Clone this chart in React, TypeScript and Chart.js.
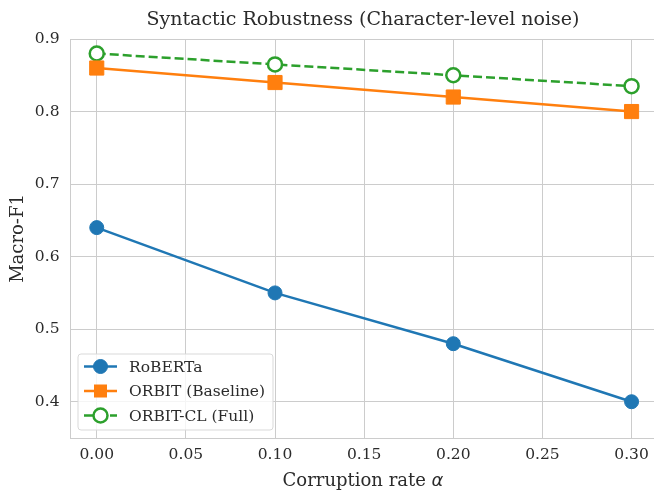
import React, { useEffect, useRef } from "react";
import { Chart, registerables } from "chart.js";

Chart.register(...registerables);

const corruptionRates = [0.0, 0.1, 0.2, 0.3];
const robertaF1 = [0.64, 0.55, 0.48, 0.4];
const orbitBaselineF1 = [0.86, 0.84, 0.82, 0.8];
const orbitClF1 = [0.88, 0.865, 0.85, 0.835];
const xTicks = [0.0, 0.05, 0.1, 0.15, 0.2, 0.25, 0.3];
const yTicks = [0.4, 0.5, 0.6, 0.7, 0.8, 0.9];
const xTitleText = "Corruption rate ";
const xTitleSymbol = "α";

const FONT = "'DejaVu Serif', serif";
const TEXT = "#2b2b2b";
const GRID = "#cccccc";

const pts = (ys: number[]) => corruptionRates.map((x, i) => ({ x, y: ys[i] }));

const xTitlePlugin = {
  id: "xTitleMixed",
  afterDraw(chart: any) {
    const ctx = chart.ctx;
    const area = chart.chartArea;
    ctx.save();
    const f1 = `18px ${FONT}`;
    const f2 = `italic 18px 'DejaVu Sans', sans-serif`;
    ctx.font = f1;
    const w1 = ctx.measureText(xTitleText).width;
    ctx.font = f2;
    const w2 = ctx.measureText(xTitleSymbol).width;
    const cx = (area.left + 656) / 2;
    const x = cx - (w1 + w2) / 2;
    const y = 481.5;
    ctx.fillStyle = TEXT;
    ctx.textBaseline = "middle";
    ctx.textAlign = "left";
    ctx.font = f1;
    ctx.fillText(xTitleText, x, y);
    ctx.font = f2;
    ctx.fillText(xTitleSymbol, x + w1, y);
    ctx.restore();
  },
};

const titlePlugin = {
  id: "centeredTitle",
  afterDraw(chart: any) {
    const ctx = chart.ctx;
    const area = chart.chartArea;
    ctx.save();
    ctx.font = `19px ${FONT}`;
    ctx.fillStyle = TEXT;
    ctx.textAlign = "center";
    ctx.textBaseline = "middle";
    ctx.fillText("Syntactic Robustness (Character-level noise)", (area.left + 656) / 2, 20);
    ctx.restore();
  },
};

const legendPlugin = {
  id: "insideLegend",
  afterDraw(chart: any) {
    const ctx = chart.ctx;
    const area = chart.chartArea;
    const x0 = area.left + 8;
    const boxH = 76;
    const y0 = area.bottom - 8 - boxH;
    const boxW = 195;
    ctx.save();
    ctx.fillStyle = "rgba(255,255,255,0.8)";
    ctx.strokeStyle = "#d9d9d9";
    ctx.lineWidth = 1;
    const r = 3;
    ctx.beginPath();
    ctx.moveTo(x0 + r, y0);
    ctx.lineTo(x0 + boxW - r, y0);
    ctx.quadraticCurveTo(x0 + boxW, y0, x0 + boxW, y0 + r);
    ctx.lineTo(x0 + boxW, y0 + boxH - r);
    ctx.quadraticCurveTo(x0 + boxW, y0 + boxH, x0 + boxW - r, y0 + boxH);
    ctx.lineTo(x0 + r, y0 + boxH);
    ctx.quadraticCurveTo(x0, y0 + boxH, x0, y0 + boxH - r);
    ctx.lineTo(x0, y0 + r);
    ctx.quadraticCurveTo(x0, y0, x0 + r, y0);
    ctx.closePath();
    ctx.fill();
    ctx.stroke();
    chart.data.datasets.forEach((ds: any, i: number) => {
      const cy = y0 + 12.5 + i * 24.5;
      const lx1 = x0 + 6;
      const lx2 = x0 + 39;
      const cx = (lx1 + lx2) / 2;
      ctx.strokeStyle = ds.borderColor;
      ctx.lineWidth = ds.borderWidth;
      ctx.setLineDash(ds.borderDash || []);
      ctx.beginPath();
      ctx.moveTo(lx1, cy);
      ctx.lineTo(lx2, cy);
      ctx.stroke();
      ctx.setLineDash([]);
      ctx.fillStyle = ds.pointBackgroundColor;
      ctx.strokeStyle = ds.pointBorderColor;
      ctx.lineWidth = ds.pointBorderWidth;
      if (ds.pointStyle === "rect") {
        const s = 6.5;
        ctx.fillRect(cx - s, cy - s, 2 * s, 2 * s);
      } else {
        ctx.beginPath();
        ctx.arc(cx, cy, ds.pointRadius, 0, Math.PI * 2);
        ctx.fill();
        ctx.stroke();
      }
      ctx.fillStyle = TEXT;
      ctx.font = `15.5px ${FONT}`;
      ctx.textAlign = "left";
      ctx.textBaseline = "middle";
      ctx.fillText(ds.label, x0 + 51, cy + 1);
    });
    ctx.restore();
  },
};

const CANVAS_W = 680;

export default function App() {
  const ref = useRef<HTMLCanvasElement | null>(null);
  useEffect(() => {
    document.body.style.margin = "0";
    const canvas = ref.current!;
    const chart = new Chart(canvas, {
      type: "line",
      data: {
        datasets: [
          {
            label: "RoBERTa",
            data: pts(robertaF1),
            borderColor: "#1f77b4",
            backgroundColor: "#1f77b4",
            borderWidth: 2.5,
            pointStyle: "circle",
            pointRadius: 7,
            pointBackgroundColor: "#1f77b4",
            pointBorderColor: "#1f77b4",
            pointBorderWidth: 1,
          },
          {
            label: "ORBIT (Baseline)",
            data: pts(orbitBaselineF1),
            borderColor: "#ff7f0e",
            backgroundColor: "#ff7f0e",
            borderWidth: 2.5,
            pointStyle: "rect",
            pointRadius: 10,
            pointBackgroundColor: "#ff7f0e",
            pointBorderColor: "#ff7f0e",
            pointBorderWidth: 1,
          },
          {
            label: "ORBIT-CL (Full)",
            data: pts(orbitClF1),
            borderColor: "#2ca02c",
            backgroundColor: "#ffffff",
            borderWidth: 2.5,
            borderDash: [9, 4],
            pointStyle: "circle",
            pointRadius: 7,
            pointBackgroundColor: "#ffffff",
            pointBorderColor: "#2ca02c",
            pointBorderWidth: 2.5,
          },
        ],
      },
      options: {
        responsive: false,
        animation: false,
        layout: { padding: { left: 0, right: 0, top: 39, bottom: 0 } },
        plugins: {
          legend: { display: false },
          tooltip: { enabled: false },
          title: { display: false },
        },
        scales: {
          x: {
            type: "linear",
            min: -0.015,
            max: 0.321,
            afterBuildTicks: (s: any) => {
              s.ticks = xTicks.map((v) => ({ value: v }));
            },
            afterFit: (s: any) => {
              s.height = 54;
              s.paddingLeft = 0;
              s.paddingRight = 0;
            },
            ticks: {
              color: TEXT,
              font: { family: FONT, size: 15.5 },
              padding: 8,
              maxRotation: 0,
              callback: (v: any) => Number(v).toFixed(2),
            },
            grid: { color: GRID, lineWidth: 1, drawTicks: false },
            border: { color: GRID, width: 1 },
            title: { display: false },
          },
          y: {
            type: "linear",
            min: 0.35,
            max: 0.9,
            afterBuildTicks: (s: any) => {
              s.ticks = yTicks.map((v) => ({ value: v }));
            },
            afterFit: (s: any) => {
              s.width = 70;
              s.paddingTop = 0;
              s.paddingBottom = 0;
            },
            ticks: {
              color: TEXT,
              font: { family: FONT, size: 15.5 },
              padding: 10.5,
              callback: (v: any) => Number(v).toFixed(1),
            },
            grid: { color: GRID, lineWidth: 1, drawTicks: false },
            border: { color: GRID, width: 1 },
            title: {
              display: true,
              text: "Macro-F1",
              color: TEXT,
              font: { family: FONT, size: 18 },
              padding: { top: 7.7, bottom: 2 },
            },
          },
        },
      },
      plugins: [legendPlugin, xTitlePlugin, titlePlugin],
    } as any);
    return () => chart.destroy();
  }, []);
  return (
    <div style={{ width: 654, height: 492, overflow: "hidden", position: "relative" }}>
      <canvas
        ref={ref}
        width={CANVAS_W}
        height={492}
        style={{ display: "block", width: CANVAS_W, height: 492 }}
      />
    </div>
  );
}
